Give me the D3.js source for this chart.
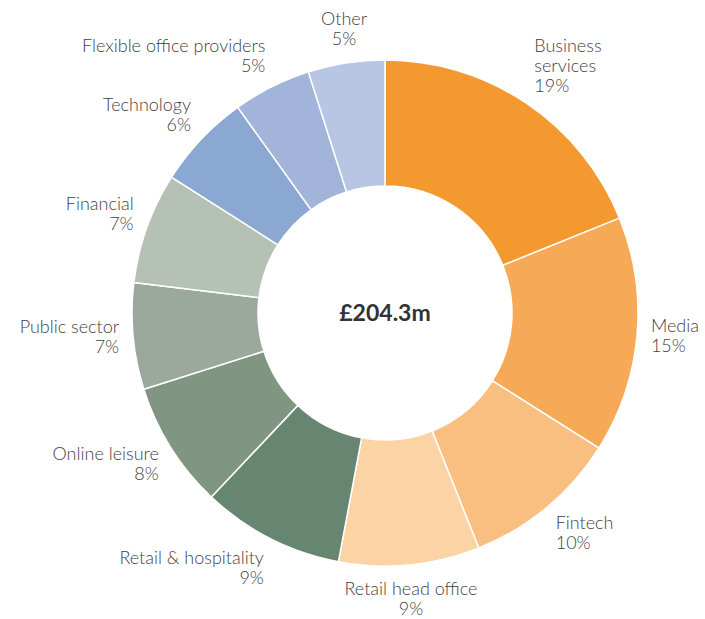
<!DOCTYPE html>
<meta charset="utf-8">
<style>
    * {
        margin: 0px;
    }
    body {
        background: #fff;
    }
    text {
        font-family: Lato, "Open Sans", sans-serif;
    }
    .label {
        font-size: 18px;
        font-weight: 300;
        fill: #3f3f3f;
    }
    .total {
        font-size: 23px;
        font-weight: bold;
        fill: #333;
    }
</style>
<svg width="705" height="619"></svg>
<script src="https://d3js.org/d3.v7.min.js"></script>
<script>
    // sectors, clockwise from 12 o'clock
    var sectors = ["Business services", "Media", "Fintech", "Retail head office", "Retail & hospitality",
        "Online leisure", "Public sector", "Financial", "Technology", "Flexible office providers", "Other"];
    // share of total (%)
    var shares = [18.9, 15.1, 10.0, 9.0, 9.1, 8.1, 6.8, 7.1, 6.1, 5.0, 4.9];
    // percentage shown on each label
    var shownPct = [19, 15, 10, 9, 9, 8, 7, 7, 6, 5, 5];
    var colours = ["#f4992f", "#f6aa58", "#f9bf80", "#fbd3a5", "#678671",
        "#809683", "#9aa99b", "#b6c1b6", "#8aa8d1", "#a3b4da", "#b7c7e3"];
    var total = "£204.3m";

    var svg = d3.select("svg"),
        cx = 385,
        cy = 313,
        outerR = 253,
        innerR = 127;

    var data = sectors.map(function(s, i) {
        return { name: s, value: shares[i], pct: shownPct[i], colour: colours[i] };
    });

    var pie = d3.pie()
        .sort(null)
        .value(function(d) { return d.value; });

    var arc = d3.arc()
        .innerRadius(innerR)
        .outerRadius(outerR);

    var g = svg.append("g")
        .attr("transform", "translate(" + cx + "," + cy + ")");

    var arcs = pie(data);

    g.selectAll("path")
        .data(arcs)
        .enter().append("path")
        .attr("d", arc)
        .attr("fill", function(d) { return d.data.colour; })
        .attr("stroke", "#fff")
        .attr("stroke-width", 1.5);

    // labels sit just outside the ring on each slice's mid angle
    var labelR = outerR + 14,
        lineH = 20;

    // break long names the way the original does
    function lines(d) {
        var name = d.data.name;
        var out = name === "Business services" ? ["Business", "services"] : [name];
        out.push(d.data.pct + "%");
        return out;
    }

    g.selectAll("text.label")
        .data(arcs)
        .enter().append("text")
        .attr("class", "label")
        .each(function(d) {
            var a = (d.startAngle + d.endAngle) / 2,
                s = Math.sin(a),
                c = Math.cos(a),
                px = labelR * s,
                py = -labelR * c,
                ls = lines(d),
                h = ls.length * lineH,
                top = py - h * (1 + c) / 2 - 3 * (1 - Math.abs(c)),
                anchor = s > 0.2 ? "start" : (s < -0.2 ? "end" : "middle");
            var t = d3.select(this).attr("text-anchor", anchor);
            ls.forEach(function(l, i) {
                t.append("tspan")
                    .attr("x", px)
                    .attr("y", top + i * lineH + 16)
                    .text(l);
            });
        });

    g.append("text")
        .attr("class", "total")
        .attr("text-anchor", "middle")
        .attr("dy", "0.35em")
        .text(total);
</script>
